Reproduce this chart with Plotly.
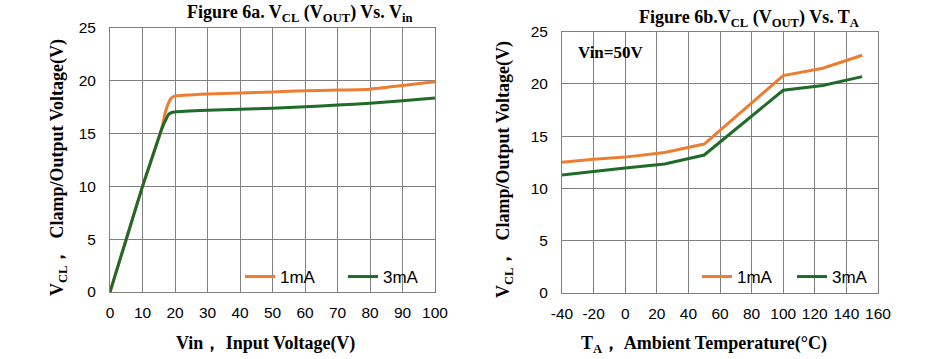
import plotly.graph_objects as go

# ---- Data: Figure 6a (Vin sweep) ----
vin = [0, 5, 10, 15, 16, 17, 18, 19, 20, 30, 40, 50, 60, 70, 80, 90, 100]
vcl_1ma_a = [0, 5, 10, 14.6, 15.6, 17.0, 17.9, 18.4, 18.55, 18.75, 18.85, 18.95, 19.05, 19.12, 19.2, 19.55, 19.9]
vcl_3ma_a = [0, 5, 10, 14.6, 15.5, 16.2, 16.8, 17.0, 17.05, 17.2, 17.3, 17.4, 17.55, 17.7, 17.87, 18.12, 18.37]

# ---- Data: Figure 6b (temperature sweep) ----
temp = [-40, -20, 0, 25, 50, 100, 125, 150]
vcl_1ma_b = [12.5, 12.8, 13.0, 13.45, 14.25, 20.8, 21.5, 22.75]
vcl_3ma_b = [11.3, 11.6, 11.95, 12.35, 13.2, 19.4, 19.85, 20.7]

xa_ticks = [0, 10, 20, 30, 40, 50, 60, 70, 80, 90, 100]
xb_ticks = [-40, -20, 0, 20, 40, 60, 80, 100, 120, 140, 160]
xb_ticktext = ["-40", "-20", "0", "20", "40", "60", "80", "100", "120", "140", "160"]
y_ticks = [0, 5, 10, 15, 20, 25]

ORANGE = "#ED7D31"
GREEN = "#1E6B2A"
GRID = "#808080"
W, H = 941, 359

fig = go.Figure()
fig.add_trace(go.Scatter(x=vin, y=vcl_1ma_a, name="1mA", mode="lines",
                         line=dict(color=ORANGE, width=3, shape="spline", smoothing=0.5),
                         xaxis="x", yaxis="y", legend="legend"))
fig.add_trace(go.Scatter(x=vin, y=vcl_3ma_a, name="3mA", mode="lines",
                         line=dict(color=GREEN, width=3, shape="spline", smoothing=0.5),
                         xaxis="x", yaxis="y", legend="legend"))
fig.add_trace(go.Scatter(x=temp, y=vcl_1ma_b, name="1mA", mode="lines",
                         line=dict(color=ORANGE, width=3),
                         xaxis="x2", yaxis="y2", legend="legend2"))
fig.add_trace(go.Scatter(x=temp, y=vcl_3ma_b, name="3mA", mode="lines",
                         line=dict(color=GREEN, width=3),
                         xaxis="x2", yaxis="y2", legend="legend2"))

tickfont = dict(family="Liberation Sans, Arial", size=15.5, color="#000")
axis_common = dict(showgrid=True, gridcolor=GRID, gridwidth=1, showline=True,
                   linecolor=GRID, linewidth=1, mirror=True, zeroline=False,
                   tickfont=tickfont, ticks="", automargin=False)

def px(sx):
    return sx / W

def py(sy):
    return (H - sy) / H

legfont = dict(family="Liberation Sans, Arial", size=17, color="#000")

fig.update_layout(
    width=W, height=H,
    margin=dict(l=0, r=0, t=0, b=0),
    paper_bgcolor="white", plot_bgcolor="white",
    xaxis=dict(domain=[px(110), px(435)], range=[0, 100], tickvals=xa_ticks,
               anchor="y", ticklabelstandoff=6, **axis_common),
    yaxis=dict(domain=[py(292), py(28)], range=[0, 25], tickvals=y_ticks,
               anchor="x", ticklabelstandoff=10, **axis_common),
    xaxis2=dict(domain=[px(562), px(878)], range=[-40, 160], tickvals=xb_ticks,
                ticktext=xb_ticktext, anchor="y2", ticklabelstandoff=6, **axis_common),
    yaxis2=dict(domain=[py(293), py(31.7)], range=[0, 25], tickvals=y_ticks,
                anchor="x2", ticklabelstandoff=10, **axis_common),
    legend=dict(orientation="h", x=px(240), y=py(277), xanchor="left", yanchor="middle",
                bgcolor="rgba(0,0,0,0)", font=legfont, entrywidth=58, itemwidth=30),
    legend2=dict(orientation="h", x=px(697), y=py(277), xanchor="left", yanchor="middle",
                 bgcolor="rgba(0,0,0,0)", font=legfont, entrywidth=50, itemwidth=30),
)

serif_b = dict(family="Liberation Serif, Times New Roman", size=18, color="#000")
serif_t = dict(family="Liberation Serif, Times New Roman", size=18, color="#000")
serif_v = dict(family="Liberation Serif, Times New Roman", size=17, color="#000")

ann = [
    dict(x=px(300), y=py(14), text="<b>Figure 6a. V<sub>CL</sub> (V<sub>OUT</sub>) Vs. V<sub>in</sub></b>", font=serif_b),
    dict(x=px(749), y=py(18), text="<b>Figure 6b.V<sub>CL</sub> (V<sub>OUT</sub>) Vs. T<sub>A</sub></b>", font=serif_b),
    dict(x=px(265), y=py(343), text="<b>Vin， Input Voltage(V)</b>", font=serif_t),
    dict(x=px(704), y=py(344), text="<b>T<sub>A</sub>， Ambient Temperature(°C)</b>", font=serif_t),
    dict(x=px(58), y=py(168), text="<b>V<sub>CL</sub>，  Clamp/Output Voltage(V)</b>", font=serif_t, textangle=-90),
    dict(x=px(505), y=py(170), text="<b>V<sub>CL</sub>，  Clamp/Output Voltage(V)</b>", font=serif_t, textangle=-90),
    dict(x=px(611), y=py(52), text="<b>Vin=50V</b>", font=serif_v),
]
for a in ann:
    a.update(xref="paper", yref="paper", showarrow=False, xanchor="center", yanchor="middle")
fig.update_layout(annotations=ann)

fig.write_html("out.html", config={"displayModeBar": False},
               post_script="document.body.style.margin='0px';document.body.style.overflow='hidden';")
